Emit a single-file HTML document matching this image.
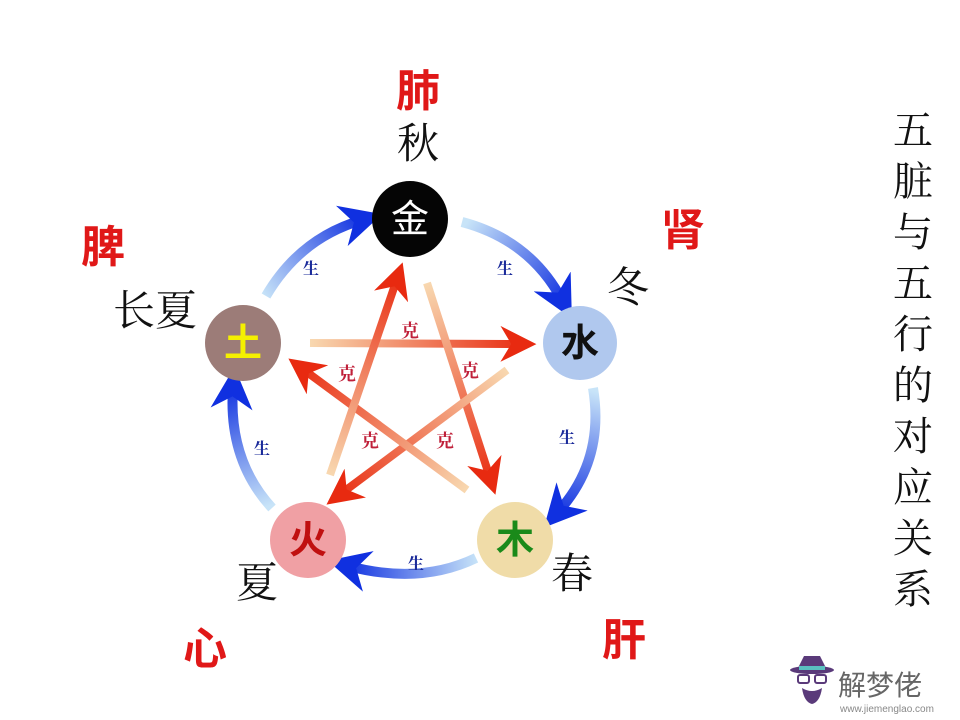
<!DOCTYPE html>
<html><head><meta charset="utf-8"><style>
html,body{margin:0;padding:0;background:#fff;width:960px;height:720px;overflow:hidden}
svg{display:block}
.red{font-family:"Liberation Sans","Noto Sans CJK SC",sans-serif;font-weight:bold;fill:#e01818;font-size:44px}
.blk{font-family:"Liberation Serif","Noto Serif CJK SC",serif;fill:#111;font-size:42px}
.sh{font-family:"Liberation Serif","Noto Serif CJK SC",serif;font-weight:bold;fill:#1a2a9a;font-size:16px}
.ke{font-family:"Liberation Serif","Noto Serif CJK SC",serif;font-weight:bold;fill:#c0203a;font-size:18px}
.node{font-family:"Liberation Sans","Noto Sans CJK SC",sans-serif;font-weight:bold;font-size:38px}
</style></head><body>
<svg width="960" height="720" viewBox="0 0 960 720" xmlns="http://www.w3.org/2000/svg">
<defs>
<marker id="bh" viewBox="0 0 10 10" refX="5" refY="5" markerWidth="4.2" markerHeight="4.2" orient="auto"><path d="M0,0 L10,5 L0,10 L3,5 Z" fill="#1030e0"/></marker>
<marker id="rh" viewBox="0 0 10 10" refX="6" refY="5" markerWidth="4.5" markerHeight="4.5" orient="auto"><path d="M0,0 L10,5 L0,10 L3,5 Z" fill="#e82a10"/></marker>
<linearGradient id="g1" gradientUnits="userSpaceOnUse" x1="310" y1="343" x2="528" y2="344"><stop offset="0" stop-color="#f8d8b0"/><stop offset="1" stop-color="#e82a10"/></linearGradient>
<linearGradient id="g2" gradientUnits="userSpaceOnUse" x1="427" y1="283" x2="493" y2="487"><stop offset="0" stop-color="#f8d8b0"/><stop offset="1" stop-color="#e82a10"/></linearGradient>
<linearGradient id="g3" gradientUnits="userSpaceOnUse" x1="507" y1="370" x2="333" y2="500"><stop offset="0" stop-color="#f8d8b0"/><stop offset="1" stop-color="#e82a10"/></linearGradient>
<linearGradient id="g4" gradientUnits="userSpaceOnUse" x1="467" y1="490" x2="295" y2="363"><stop offset="0" stop-color="#f8d8b0"/><stop offset="1" stop-color="#e82a10"/></linearGradient>
<linearGradient id="g5" gradientUnits="userSpaceOnUse" x1="330" y1="475" x2="400" y2="270"><stop offset="0" stop-color="#f8d8b0"/><stop offset="1" stop-color="#e82a10"/></linearGradient>
<linearGradient id="b1" gradientUnits="userSpaceOnUse" x1="465" y1="225" x2="565" y2="305"><stop offset="0" stop-color="#c8e4f8"/><stop offset="1" stop-color="#1030e0"/></linearGradient>
<linearGradient id="b2" gradientUnits="userSpaceOnUse" x1="590" y1="390" x2="555" y2="515"><stop offset="0" stop-color="#c8e4f8"/><stop offset="1" stop-color="#1030e0"/></linearGradient>
<linearGradient id="b3" gradientUnits="userSpaceOnUse" x1="478" y1="560" x2="345" y2="565"><stop offset="0" stop-color="#c8e4f8"/><stop offset="1" stop-color="#1030e0"/></linearGradient>
<linearGradient id="b4" gradientUnits="userSpaceOnUse" x1="272" y1="505" x2="230" y2="385"><stop offset="0" stop-color="#c8e4f8"/><stop offset="1" stop-color="#1030e0"/></linearGradient>
<linearGradient id="b5" gradientUnits="userSpaceOnUse" x1="265" y1="298" x2="365" y2="220"><stop offset="0" stop-color="#c8e4f8"/><stop offset="1" stop-color="#1030e0"/></linearGradient>
</defs>
<g fill="none" stroke-width="10" stroke-linecap="butt">
<path d="M462,222 Q530,240 562,300" stroke="url(#b1)" marker-end="url(#bh)"/>
<path d="M593,388 Q605,460 558,512" stroke="url(#b2)" marker-end="url(#bh)"/>
<path d="M476,558 Q420,585 348,566" stroke="url(#b3)" marker-end="url(#bh)"/>
<path d="M272,508 Q228,460 233,388" stroke="url(#b4)" marker-end="url(#bh)"/>
<path d="M266,296 Q300,238 362,220" stroke="url(#b5)" marker-end="url(#bh)"/>
</g>
<g fill="none" stroke-width="8">
<line x1="310" y1="343" x2="522" y2="344" stroke="url(#g1)" marker-end="url(#rh)"/>
<line x1="427" y1="283" x2="491" y2="481" stroke="url(#g2)" marker-end="url(#rh)"/>
<line x1="507" y1="370" x2="338" y2="496" stroke="url(#g3)" marker-end="url(#rh)"/>
<line x1="467" y1="490" x2="300" y2="367" stroke="url(#g4)" marker-end="url(#rh)"/>
<line x1="330" y1="475" x2="398" y2="276" stroke="url(#g5)" marker-end="url(#rh)"/>
</g>
<g class="ke" text-anchor="middle">
<text x="410" y="337">克</text><text x="347" y="380">克</text><text x="470" y="377">克</text>
<text x="370" y="447">克</text><text x="445" y="447">克</text>
</g>
<g class="sh" text-anchor="middle">
<text x="311" y="274">生</text><text x="505" y="274">生</text><text x="567" y="443">生</text>
<text x="416" y="569">生</text><text x="262" y="454">生</text>
</g>
<circle cx="410" cy="219" r="38" fill="#050505"/>
<circle cx="580" cy="343" r="37" fill="#b0c8ee"/>
<circle cx="515" cy="540" r="38" fill="#f0dca8"/>
<circle cx="308" cy="540" r="38" fill="#f0a0a4"/>
<circle cx="243" cy="343" r="38" fill="#9c7c78"/>
<g class="node" text-anchor="middle">
<text x="410" y="232" fill="#fff" style="font-weight:normal">金</text>
<text x="580" y="356" fill="#111">水</text>
<text x="515" y="553" fill="#1a8a1a">木</text>
<text x="308" y="553" fill="#c01010">火</text>
<text x="243" y="356" fill="#f4f000">土</text>
</g>
<g text-anchor="middle">
<text class="red" x="418" y="106">肺</text>
<text class="blk" x="418" y="158">秋</text>
<text class="red" x="683" y="245">肾</text>
<text class="blk" x="628" y="302">冬</text>
<text class="red" x="103" y="262">脾</text>
<text class="blk" x="155" y="325">长夏</text>
<text class="blk" x="257" y="597">夏</text>
<text class="red" x="205" y="664">心</text>
<text class="blk" x="572" y="588">春</text>
<text class="red" x="624" y="655">肝</text>
</g>
<g class="blk" text-anchor="middle" style="font-size:40px">
<text x="913" y="144">五</text><text x="913" y="195">脏</text><text x="913" y="246">与</text>
<text x="913" y="297">五</text><text x="913" y="348">行</text><text x="913" y="399">的</text>
<text x="913" y="450">对</text><text x="913" y="501">应</text><text x="913" y="552">关</text>
<text x="913" y="603">系</text>
</g>
<g transform="translate(812,690)">
<path d="M-14,-22 L-8,-34 L8,-34 L14,-22 Z" fill="#5a3a7a"/>
<ellipse cx="0" cy="-20" rx="22" ry="4" fill="#5a3a7a"/>
<rect x="-13" y="-24" width="26" height="4" fill="#5ac0c0"/>
<rect x="-14" y="-15" width="11" height="8" rx="2" fill="none" stroke="#5a3a7a" stroke-width="2"/>
<rect x="3" y="-15" width="11" height="8" rx="2" fill="none" stroke="#5a3a7a" stroke-width="2"/>
<path d="M-10,-2 Q0,4 10,-2 Q8,12 0,14 Q-8,12 -10,-2 Z" fill="#5a3a7a"/>
</g>
<text x="838" y="695" style="font-family:'Liberation Sans','Noto Sans CJK SC',sans-serif;font-size:28px;fill:#666">解梦佬</text>
<text x="840" y="712" style="font-family:'Liberation Sans',sans-serif;font-size:10px;fill:#888">www.jiemenglao.com</text>
</svg>
</body></html>
